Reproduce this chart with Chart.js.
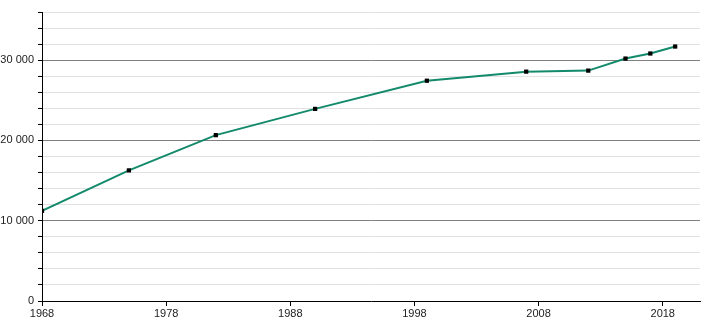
<!DOCTYPE html>
<html>
<head>
<meta charset="utf-8">
<script src="https://cdn.jsdelivr.net/npm/chart.js@4/dist/chart.umd.min.js"></script>
<style>
  html, body { margin: 0; padding: 0; background: #fff; }
  #wrap { width: 710px; height: 320px; }
</style>
</head>
<body>
<div id="wrap"><canvas id="popChart" width="710" height="320"></canvas></div>
<script>
var years = [1968, 1975, 1982, 1990, 1999, 2007, 2012, 2015, 2017, 2019];
var population = [11230, 16270, 20660, 23930, 27440, 28570, 28700, 30200, 30830, 31700];
var xTicks = [1968, 1978, 1988, 1998, 2008, 2018];
var yLabelStep = 10000;

function formatThousands(v) {
    return String(v).replace(/\B(?=(\d{3})+(?!\d))/g, ' ');
}

var points = years.map(function (y, i) {
    return { x: y, y: population[i] };
});

var ctx = document.getElementById('popChart').getContext('2d');

var myChart = new Chart(ctx, {
    type: 'line',
    data: {
        datasets: [{
            data: points,
            borderColor: '#128a6b',
            borderWidth: 2,
            tension: 0,
            pointStyle: 'rect',
            pointRadius: 3,
            pointBackgroundColor: '#000',
            pointBorderColor: '#000',
            pointBorderWidth: 0
        }]
    },
    options: {
        responsive: false,
        animation: false,
        layout: { padding: { top: 12, right: 10, left: 0, bottom: 0 } },
        plugins: {
            legend: { display: false },
            tooltip: { enabled: false }
        },
        scales: {
            x: {
                type: 'linear',
                min: 1968,
                max: 2021,
                afterBuildTicks: function (scale) {
                    scale.ticks = xTicks.map(function (v) { return { value: v }; });
                },
                afterFit: function (scale) { scale.height = 19; },
                grid: {
                    drawOnChartArea: false,
                    drawTicks: true,
                    tickLength: 5,
                    tickColor: '#000'
                },
                border: { color: '#000', width: 1 },
                ticks: {
                    padding: 1,
                    maxRotation: 0,
                    color: '#222',
                    font: { family: 'Liberation Sans, Arial, sans-serif', size: 11 },
                    callback: function (v) { return String(v); }
                }
            },
            y: {
                min: 0,
                max: 36000,
                afterFit: function (scale) { scale.width = 42; },
                grid: {
                    color: function (c) {
                        if (c.tick && c.tick.value === 0) return 'rgba(0,0,0,0)';
                        return c.tick && c.tick.value % yLabelStep === 0 ? '#808080' : '#e2e2e2';
                    },
                    tickLength: 4,
                    tickColor: '#000'
                },
                border: { color: '#000', width: 1 },
                ticks: {
                    stepSize: 2000,
                    autoSkip: false,
                    padding: 4,
                    color: '#222',
                    font: { family: 'Liberation Sans, Arial, sans-serif', size: 11 },
                    callback: function (v) {
                        return v % yLabelStep === 0 ? formatThousands(v) : '';
                    }
                }
            }
        }
    }
});
</script>
</body>
</html>
